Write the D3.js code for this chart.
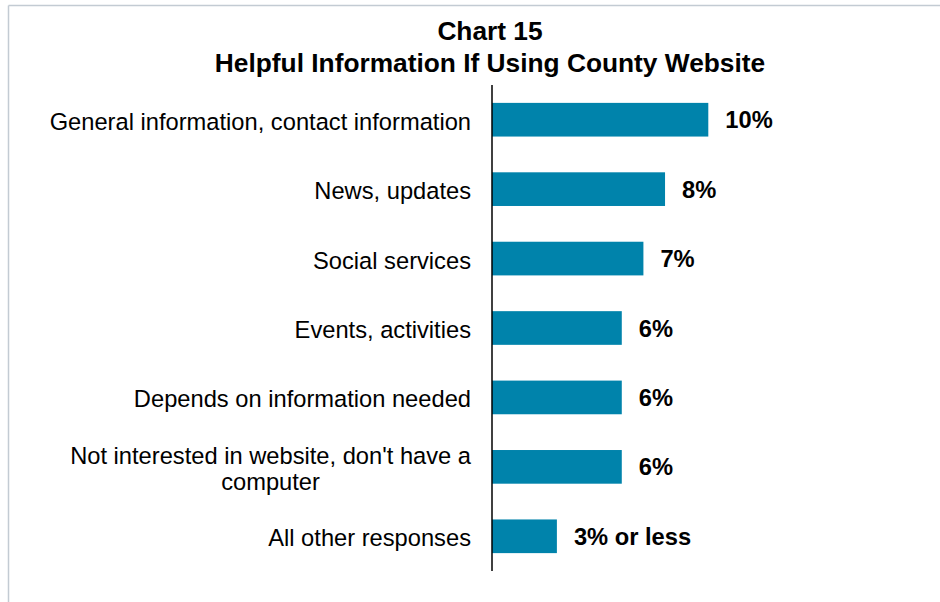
<!DOCTYPE html>
<html>
<head>
<meta charset="utf-8">
<script src="https://cdn.jsdelivr.net/npm/d3@7"></script>
<style>
  html, body { margin: 0; padding: 0; background: #fff; }
  svg { display: block; font-family: "Liberation Sans", Arial, sans-serif; }
</style>
</head>
<body>
<svg id="chart" width="940" height="602"></svg>
<script>
// Chart data
const categories = [
  ["General information, contact information"],
  ["News, updates"],
  ["Social services"],
  ["Events, activities"],
  ["Depends on information needed"],
  ["Not interested in website, don't have a", "computer"],
  ["All other responses"]
];
const values = [10, 8, 7, 6, 6, 6, 3];
const valueLabels = ["10%", "8%", "7%", "6%", "6%", "6%", "3% or less"];
const titleLines = ["Chart 15", "Helpful Information If Using County Website"];

const svg = d3.select("#chart");
const W = 940, H = 602;

// frame (only top and left edges are visible)
svg.append("line").attr("x1", 8.5).attr("x2", W).attr("y1", 5.5).attr("y2", 5.5)
  .attr("stroke", "#c3cbd3").attr("stroke-width", 1.5);
svg.append("line").attr("x1", 8.5).attr("x2", 8.5).attr("y1", 5.5).attr("y2", H)
  .attr("stroke", "#c3cbd3").attr("stroke-width", 1.5);

// title
svg.append("g").selectAll("text")
  .data(titleLines)
  .join("text")
  .attr("x", 490)
  .attr("y", (d, i) => 40 + i * 31.5)
  .attr("text-anchor", "middle")
  .attr("font-size", 26.3)
  .attr("font-weight", "bold")
  .attr("fill", "#000")
  .text(d => d);

// scales
const x = d3.scaleLinear().domain([0, 10]).range([492, 708.3]);
const y = d3.scaleBand().domain(d3.range(categories.length)).range([85, 571])
  .paddingInner(0.515).paddingOuter(0.2575);

// bars
svg.append("g").selectAll("rect")
  .data(values)
  .join("rect")
  .attr("x", x(0))
  .attr("y", (d, i) => y(i))
  .attr("width", d => x(d) - x(0))
  .attr("height", y.bandwidth())
  .attr("fill", "#0083ab");

// value labels
svg.append("g").selectAll("text")
  .data(values)
  .join("text")
  .attr("x", d => x(d) + 17)
  .attr("y", (d, i) => y(i) + y.bandwidth() / 2)
  .attr("dy", "0.36em")
  .attr("font-size", 23.7)
  .attr("font-weight", "bold")
  .attr("fill", "#000")
  .text((d, i) => valueLabels[i]);

// category labels: single lines right aligned, wrapped blocks centred
const labelRight = 471, lineH = 26;
const catG = svg.append("g");
categories.forEach((lines, i) => {
  const cy = y(i) + y.bandwidth() / 2;
  const t = catG.append("text")
    .attr("font-size", 23.7)
    .attr("fill", "#000");
  lines.forEach(ln => t.append("tspan").text(ln));
  const widths = [];
  t.selectAll("tspan").each(function() { widths.push(this.getComputedTextLength()); });
  const mid = labelRight - d3.max(widths) / 2;
  t.selectAll("tspan")
    .attr("x", mid)
    .attr("text-anchor", "middle")
    .attr("y", (d, j) => cy + 1.5 + (j - (lines.length - 1) / 2) * lineH)
    .attr("dy", "0.36em");
});

// vertical axis line
svg.append("line")
  .attr("x1", x(0)).attr("x2", x(0))
  .attr("y1", 85).attr("y2", 571)
  .attr("stroke", "#000").attr("stroke-width", 1.5);
</script>
</body>
</html>
